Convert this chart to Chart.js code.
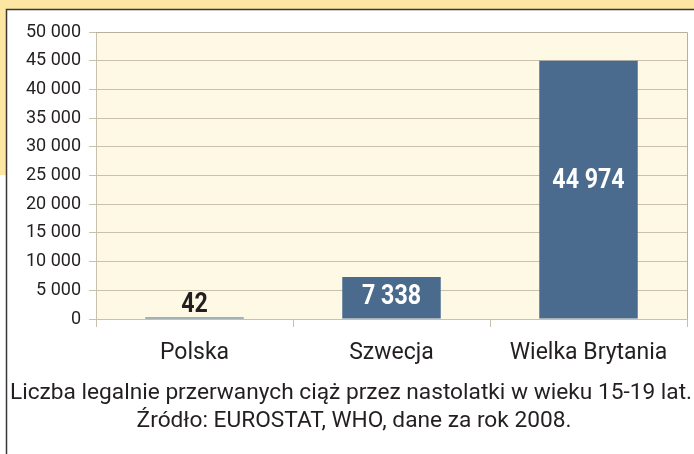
<!DOCTYPE html>
<html>
<head>
<meta charset="utf-8">
<script src="https://cdn.jsdelivr.net/npm/chart.js@4/dist/chart.umd.min.js"></script>
<style>
  html,body{margin:0;padding:0;background:#fff;}
  #wrap{width:694px;height:454px;position:relative;}
</style>
</head>
<body>
<div id="wrap"><canvas id="c" width="694" height="454"></canvas></div>
<script>
const countries=['Polska','Szwecja','Wielka Brytania'];
const abortions=[42,7338,44974];
const yTicksMax=50000, yStep=5000;
const caption=['Liczba legalnie przerwanych ciąż przez nastolatki w wieku 15-19 lat.','Źródło: EUROSTAT, WHO, dane za rok 2008.'];

const fmt=v=>String(v).replace(/\B(?=(\d{3})+(?!\d))/g,' ');
const TXT='#231f20', GRID='#c9c0ae', BAR='#4b6b8e';

// page background: yellow band + dark frame, plot area fill
const backdrop={
  id:'backdrop',
  beforeDraw(ch){
    const {ctx,chartArea:a}=ch;
    ctx.save();
    ctx.fillStyle='#fde6a2';
    ctx.fillRect(0,0,694,9);
    ctx.fillRect(0,0,6,175);
    ctx.strokeStyle='#3b3734'; ctx.lineWidth=1.5;
    ctx.beginPath(); ctx.moveTo(6.5,454); ctx.lineTo(6.5,9.5); ctx.lineTo(694,9.5); ctx.stroke();
    ctx.fillStyle='#fdf9e5';
    ctx.fillRect(a.left,a.top,a.right-a.left,a.bottom-a.top);
    ctx.restore();
  },
  afterDraw(ch){
    const {ctx,chartArea:a}=ch;
    ctx.save();
    ctx.strokeStyle='#b8af9f'; ctx.lineWidth=1;
    ctx.beginPath(); ctx.moveTo(a.left,a.top+0.5); ctx.lineTo(a.right+0.5,a.top+0.5); ctx.lineTo(a.right+0.5,a.bottom); ctx.stroke();
    // caption under the chart
    ctx.fillStyle=TXT; ctx.font='22.7px Roboto,sans-serif';
    ctx.textAlign='center'; ctx.textBaseline='middle';
    ctx.fillText(caption[0],351,393);
    ctx.fillText(caption[1],354,421);
    ctx.restore();
  }
};

// condensed bold value labels (horizontal squeeze, no narrow font installed)
const barLabels={
  id:'barLabels',
  afterDatasetsDraw(ch){
    const {ctx}=ch;
    const meta=ch.getDatasetMeta(0);
    meta.data.forEach((bar,i)=>{
      const h=bar.base-bar.y;
      let y, col;
      if(h<30){ col=TXT; y=bar.y-12; }
      else { col='#fff'; y=Math.min((bar.y+bar.base)/2,bar.y+120); }
      ctx.save();
      ctx.translate(bar.x,y); ctx.scale(0.86,1);
      ctx.font='bold 27px Roboto,sans-serif';
      ctx.textAlign='center'; ctx.textBaseline='middle';
      ctx.fillStyle=col;
      ctx.fillText(fmt(abortions[i]),0,0);
      ctx.restore();
    });
  }
};

new Chart(document.getElementById('c'),{
  type:'bar',
  data:{labels:countries,datasets:[{data:abortions,backgroundColor:BAR,borderWidth:0,categoryPercentage:1,barPercentage:0.5,minBarLength:1.5}]},
  options:{
    responsive:false,animation:false,
    layout:{padding:{left:0,top:32,right:7,bottom:76}},
    plugins:{legend:{display:false},tooltip:{enabled:false},title:{display:false}},
    scales:{
      x:{grid:{drawOnChartArea:false,drawTicks:true,tickLength:8,offset:true,color:GRID},
         border:{color:GRID},
         ticks:{color:TXT,padding:12,font:{family:'Roboto',size:23}},
         afterFit(s){s.height=59;}},
      y:{min:0,max:yTicksMax,
         grid:{color:GRID,tickLength:7},
         border:{color:GRID},
         ticks:{stepSize:yStep,color:TXT,padding:8,font:{family:'Roboto',size:18},callback:v=>fmt(v)},
         afterFit(s){s.width=96;}}
    }
  },
  plugins:[backdrop,barLabels]
});
</script>
</body>
</html>
